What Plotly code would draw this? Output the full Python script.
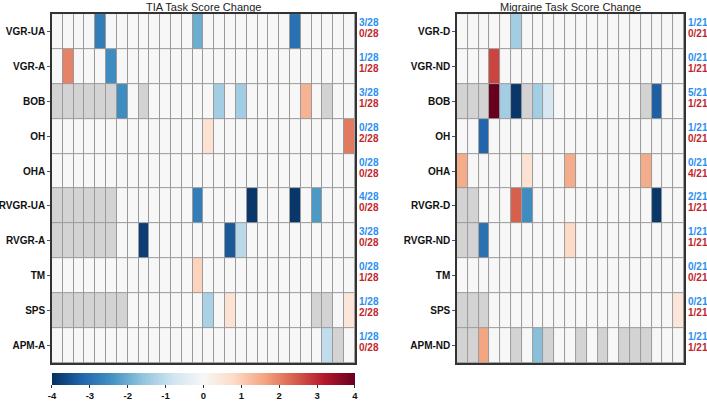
import numpy as np
import plotly.graph_objects as go
import plotly.express as px

N = None  # grey cell = not tested

tia_rows = ['VGR-UA', 'VGR-A', 'BOB', 'OH', 'OHA', 'RVGR-UA', 'RVGR-A', 'TM', 'SPS', 'APM-A']
tia_vals = [
    [0, 0, 0, 0, -2.8, 0, 0, 0, 0, 0, 0, 0, 0, -2.0, 0, 0, 0, 0, 0, 0, 0, 0, -3.0, 0, 0, 0, 0, 0],
    [0, 2.0, 0, 0, 0, -2.5, 0, 0, 0, 0, 0, 0, 0, 0, 0, 0, 0, 0, 0, 0, 0, 0, 0, 0, 0, 0, 0, 0],
    [N, N, N, N, N, N, -2.5, 0, N, 0, 0, 0, 0, 0, 0, -1.4, 0, -1.4, 0, 0, 0, 0, 0, 1.4, 0, N, 0, 0],
    [0, 0, 0, 0, 0, 0, 0, 0, 0, 0, 0, 0, 0, 0, 0.6, 0, 0, 0, 0, 0, 0, 0, 0, 0, 0, 0, 0, 2.1],
    [0, 0, 0, 0, 0, 0, 0, 0, 0, 0, 0, 0, 0, 0, 0, 0, 0, 0, 0, 0, 0, 0, 0, 0, 0, 0, 0, 0],
    [N, N, N, N, N, N, 0, 0, 0, 0, 0, 0, 0, -2.8, 0, 0, 0, 0, -3.9, 0, 0, 0, -3.9, 0, -2.3, 0, 0, 0],
    [N, N, N, N, N, N, 0, 0, -3.8, 0, 0, 0, 0, 0, 0, 0, -3.4, -1.1, 0, 0, 0, 0, 0, 0, 0, 0, 0, 0],
    [0, 0, 0, 0, 0, 0, 0, 0, 0, 0, 0, 0, 0, 0.9, 0, 0, 0, 0, 0, 0, 0, 0, 0, 0, 0, 0, 0, 0],
    [N, N, N, N, N, N, N, 0, 0, 0, 0, 0, 0, 0, -1.3, 0, 0.6, 0, 0, 0, 0, 0, 0, 0, N, N, 0, 0.5],
    [0, 0, 0, 0, 0, 0, 0, 0, 0, 0, 0, 0, 0, 0, 0, 0, 0, 0, 0, 0, 0, 0, 0, 0, 0, -1.0, N, 0],
]

mig_rows = ['VGR-D', 'VGR-ND', 'BOB', 'OH', 'OHA', 'RVGR-D', 'RVGR-ND', 'TM', 'SPS', 'APM-ND']
mig_vals = [
    [0, 0, 0, 0, 0, -1.4, 0, 0, 0, 0, 0, 0, 0, 0, 0, 0, 0, 0, 0, 0, 0],
    [0, 0, 0, 2.7, 0, 0, 0, 0, 0, 0, 0, 0, 0, 0, 0, 0, 0, 0, 0, 0, 0],
    [N, N, N, 4.0, -1.4, -3.9, N, -1.4, -0.7, 0, 0, 0, 0, 0, 0, 0, 0, N, -3.3, 0, 0],
    [0, 0, -3.2, 0, 0, 0, 0, 0, 0, 0, 0, 0, 0, 0, 0, 0, 0, 0, 0, 0, 0],
    [1.5, 0, 0, 0, 0, 0, 0.6, 0, 0, 0, 1.5, 0, 0, 0, 0, 0, 0, 1.5, 0, 0, 0],
    [N, N, 0, 0, 0, 2.4, -2.5, 0, 0, 0, 0, 0, 0, 0, 0, 0, 0, 0, -3.9, 0, 0],
    [N, N, -3.0, 0, 0, 0, 0, 0, 0, 0, 0.8, 0, 0, 0, 0, 0, 0, 0, 0, 0, 0],
    [0, 0, 0, 0, 0, 0, 0, 0, 0, 0, 0, 0, 0, 0, 0, 0, 0, 0, 0, 0, 0],
    [N, N, N, 0, 0, 0, 0, 0, 0, 0, 0, 0, 0, 0, 0, 0, 0, 0, 0, 0, 0.5],
    [N, N, 1.6, 0, 0, N, 0, -1.7, N, 0, 0, N, 0, N, 0, N, N, N, 0, 0, 0],
]

cbar_ticks = [-4, -3, -2, -1, 0, 1, 2, 3, 4]

FONT = 'Liberation Sans, Arial, sans-serif'
BLUE_TXT = '#2b8ff0'
RED_TXT = '#c1272d'
GRID = '#9a9a9a'
MISSING = '#d3d3d3'

scale = list(reversed(px.colors.diverging.RdBu))
colorscale = [[i / (len(scale) - 1), c] for i, c in enumerate(scale)]

fig = go.Figure()
annotations = []

panels = [
    ('x', 'y', tia_rows, tia_vals, 'TIA Task Score Change', [0.0735, 0.502]),
    ('x2', 'y2', mig_rows, mig_vals, 'Migraine Task Score Change', [0.6464, 0.9675]),
]

for xa, ya, rows, vals, title, dom in panels:
    z = np.array([[np.nan if v is None else v for v in r] for r in vals], dtype=float)
    mask = np.where(np.isnan(z), 1.0, np.nan)
    cols = list(range(z.shape[1]))
    fig.add_trace(go.Heatmap(z=z, x=cols, y=rows, coloraxis='coloraxis', xgap=1, ygap=1,
                             xaxis=xa, yaxis=ya, hoverinfo='skip'))
    fig.add_trace(go.Heatmap(z=mask, x=cols, y=rows, colorscale=[[0, MISSING], [1, MISSING]],
                             showscale=False, xgap=1, ygap=1, xaxis=xa, yaxis=ya, hoverinfo='skip'))

    n = z.shape[1]
    for name, row in zip(rows, z):
        neg = int(np.sum(row < 0))
        pos = int(np.sum(row > 0))
        for txt, col, shift in [(f'{neg}/{n}', BLUE_TXT, 9), (f'{pos}/{n}', RED_TXT, -2)]:
            annotations.append(dict(text=f'<b>{txt}</b>', xref=f'{xa} domain', yref=ya, x=1, y=name,
                                    xanchor='left', yanchor='middle', xshift=2, yshift=shift,
                                    showarrow=False, font=dict(family=FONT, size=10, color=col)))
    annotations.append(dict(text=title, xref='paper', yref='paper', x=sum(dom) / 2, y=0.983,
                            xanchor='center', yanchor='middle', showarrow=False,
                            font=dict(family=FONT, size=11, color='#222')))

axis_x = dict(showticklabels=False, ticks='', showgrid=False, zeroline=False, automargin=False,
              showline=True, mirror=True, linecolor='#333', linewidth=1.5)
axis_y = dict(autorange='reversed', ticks='outside', ticklen=3, tickcolor='#555', showgrid=False,
              zeroline=False, showline=True, mirror=True, linecolor='#333', linewidth=1.5, automargin=False,
              tickfont=dict(family=FONT, size=10, color='#111', weight='bold'))

fig.update_layout(
    width=707, height=402, margin=dict(l=0, r=0, t=0, b=0, autoexpand=False),
    paper_bgcolor='white', plot_bgcolor=GRID,
    xaxis=dict(domain=[0.0735, 0.502], anchor='y', **axis_x),
    yaxis=dict(domain=[0.097, 0.965], anchor='x', **axis_y),
    xaxis2=dict(domain=[0.6464, 0.9675], anchor='y2', **axis_x),
    yaxis2=dict(domain=[0.097, 0.965], anchor='x2', **axis_y),
    coloraxis=dict(cmin=-4, cmax=4, colorscale=colorscale,
                   colorbar=dict(orientation='h', x=0.0735, xanchor='left', len=0.4286, lenmode='fraction',
                                 y=0.072, yanchor='top', thickness=12, xpad=0, ypad=0, outlinewidth=0,
                                 tickvals=cbar_ticks, ticktext=[str(t) for t in cbar_ticks],
                                 ticks='outside', ticklen=3, tickcolor='#333',
                                 tickfont=dict(family=FONT, size=9.5, color='#111', weight='bold'))),
    annotations=annotations,
    font=dict(family=FONT),
)

# drop the default 8px page margin so the figure sits at the window's top-left corner
fig.write_html("out.html", config={'displayModeBar': False},
               post_script="document.body.style.margin='0';")
